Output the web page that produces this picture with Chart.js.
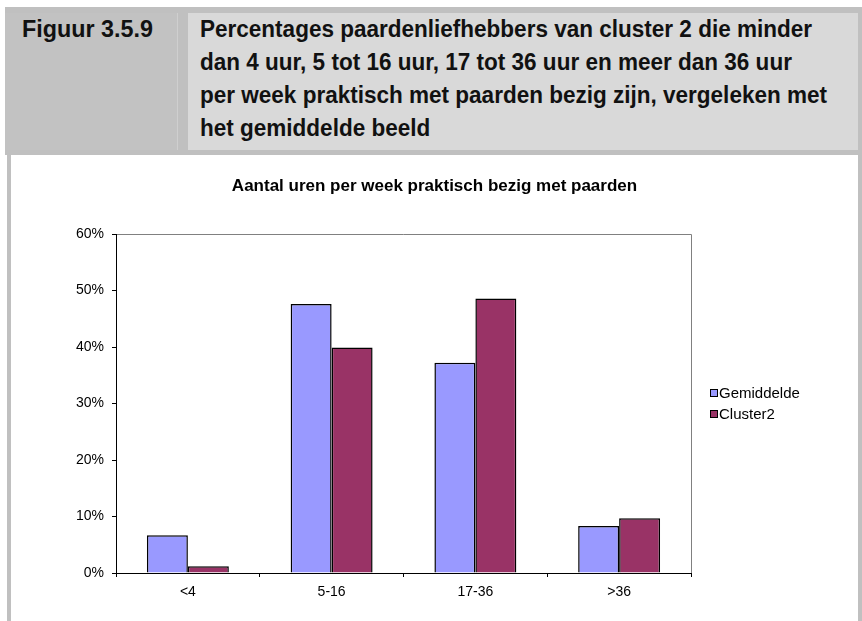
<!DOCTYPE html>
<html><head><meta charset="utf-8">
<script src="https://cdn.jsdelivr.net/npm/chart.js@4.4.0/dist/chart.umd.min.js"></script>
<style>
html,body{margin:0;padding:0;background:#fff;width:862px;height:621px;overflow:hidden;}
#hdr{position:absolute;left:5px;top:7px;width:857px;height:148px;background:#c0c0c0;}
#lcell{position:absolute;left:5px;top:13px;width:172px;height:137px;background:#c2c2c2;}
#sep{position:absolute;left:177px;top:13px;width:1px;height:137px;background:#cfcfcf;}
#rcell{position:absolute;left:188px;top:13px;width:670px;height:137px;background:#d9d9d9;}
.ht{font-family:"Liberation Sans",Arial,sans-serif;font-weight:bold;font-size:23px;line-height:33px;color:#111;position:absolute;white-space:nowrap;transform-origin:0 0;}
#lbl{left:22px;top:13px;}
#ttl{left:200px;top:13px;}
#lb{position:absolute;left:7px;top:155px;width:4px;height:466px;background:#c0c0c0;}
#rb{position:absolute;left:858px;top:150px;width:4px;height:471px;background:#c0c0c0;}
#wrap{position:absolute;left:11px;top:155px;width:847px;height:466px;background:#fff;}
</style></head>
<body>
<div id="hdr"></div>
<div id="lcell"></div>
<div id="sep"></div>
<div id="rcell"></div>
<div class="ht" id="lbl"><span>Figuur 3.5.9</span></div>
<div class="ht" id="ttl"><span>Percentages paardenliefhebbers van cluster 2 die minder</span><br>dan 4 uur, 5 tot 16 uur, 17 tot 36 uur en meer dan 36 uur<br>per week praktisch met paarden bezig zijn, vergeleken met<br>het gemiddelde beeld</div>
<div id="lb"></div>
<div id="rb"></div>
<div id="wrap"><canvas id="c" width="847" height="466"></canvas></div>
<script>
const categories = ['<4', '5-16', '17-36', '>36'];
const gemiddelde = [6.7, 47.6, 37.2, 8.3];
const cluster2 = [1.2, 39.9, 48.6, 9.7];
const seriesNames = ['Gemiddelde', 'Cluster2'];
const chartTitle = 'Aantal uren per week praktisch bezig met paarden';
const yMin = 0, yMax = 60, yStep = 10;

// fit condensed header text widths
function fitWidth(id, target) {
  const el = document.getElementById(id);
  const w = el.querySelector('span').getBoundingClientRect().width;
  el.style.transform = 'scaleX(' + (target / w) + ')';
}
fitWidth('lbl', 131);
fitWidth('ttl', 612);

const FONT = '"Liberation Sans", Arial, sans-serif';

const plotFrame = {
  id: 'plotFrame',
  beforeDraw(chart) {
    const {ctx, chartArea: a} = chart;
    ctx.save();
    ctx.strokeStyle = '#808080';
    ctx.lineWidth = 1;
    ctx.beginPath();
    ctx.moveTo(a.left, a.top + 0.5);
    ctx.lineTo(a.right + 0.5, a.top + 0.5);
    ctx.lineTo(a.right + 0.5, a.bottom);
    ctx.stroke();
    ctx.restore();
  }
};

const sideLegend = {
  id: 'sideLegend',
  afterDraw(chart) {
    const {ctx, chartArea: a} = chart;
    const ds = chart.data.datasets;
    const mid = (a.top + a.bottom) / 2;
    ctx.save();
    ctx.font = '15px ' + FONT;
    ctx.textBaseline = 'middle';
    ds.forEach((d, i) => {
      const y = Math.round(mid + (i - (ds.length - 1) / 2) * 21);
      const x = Math.round(a.right + 19);
      ctx.fillStyle = d.backgroundColor;
      ctx.fillRect(x + 0.5, y - 3.5, 7, 7);
      ctx.strokeStyle = '#000';
      ctx.lineWidth = 1;
      ctx.strokeRect(x + 0.5, y - 3.5, 7, 7);
      ctx.fillStyle = '#000';
      ctx.fillText(d.label, x + 9, y + 1);
    });
    ctx.restore();
  }
};

new Chart(document.getElementById('c'), {
  type: 'bar',
  data: {
    labels: categories,
    datasets: [
      {label: seriesNames[0], data: gemiddelde, backgroundColor: '#9999FF', borderColor: '#000', borderWidth: 1.5, borderSkipped: 'bottom', yAxisID: 'y'},
      {label: seriesNames[1], data: cluster2, backgroundColor: '#993366', borderColor: '#000', borderWidth: 1.5, borderSkipped: 'bottom', yAxisID: 'y'}
    ]
  },
  options: {
    responsive: false,
    animation: false,
    devicePixelRatio: 1,
    layout: {padding: 0},
    datasets: {bar: {categoryPercentage: 0.57, barPercentage: 1.0}},
    plugins: {
      legend: {display: false},
      tooltip: {enabled: false},
      title: {
        display: true, text: chartTitle, color: '#000',
        font: {family: FONT, size: 17, weight: 'bold'},
        padding: {top: 21, bottom: 37.6}
      }
    },
    scales: {
      x: {
        grid: {offset: true, drawOnChartArea: false, drawTicks: true, tickLength: 4, color: '#000'},
        border: {color: '#000', width: 1},
        ticks: {color: '#000', font: {family: FONT, size: 14}, padding: 7, maxRotation: 0},
        afterFit(s) { s.height = 48; }
      },
      y: {
        min: yMin, max: yMax,
        grid: {drawOnChartArea: false, drawTicks: true, tickLength: 4, color: '#000'},
        border: {color: '#000', width: 1},
        ticks: {stepSize: yStep, color: '#000', font: {family: FONT, size: 14}, padding: 8,
                callback: v => v + '%'},
        afterFit(s) { s.width = 105; }
      },
      legendSpace: {
        position: 'right', type: 'linear', display: true,
        grid: {display: false, drawTicks: false}, border: {display: false},
        ticks: {display: false},
        afterFit(s) { s.width = 167; }
      }
    }
  },
  plugins: [plotFrame, sideLegend]
});
</script>
</body></html>
